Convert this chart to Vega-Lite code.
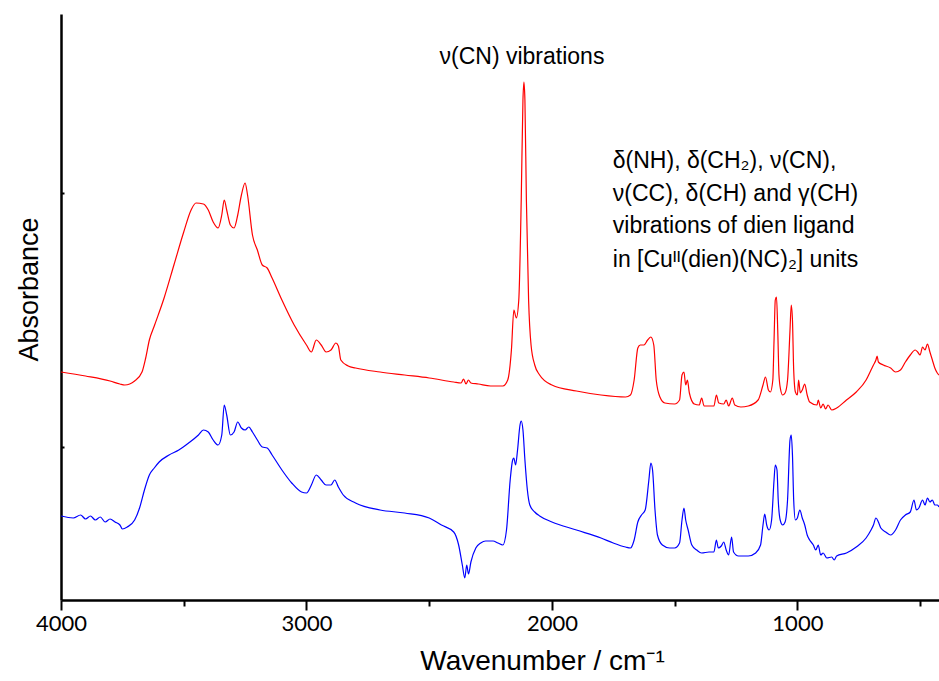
{
  "$schema": "https://vega.github.io/schema/vega-lite/v6.json",
  "width": 878,
  "height": 586,
  "autosize": {"type": "none"},
  "padding": {"left": 61, "top": 14, "right": 0, "bottom": 81},
  "background": "white",
  "config": {"view": {"stroke": null}},
  "datasets": {
    "spec": [
      {"s":"r","w":4000,"a":2.28},{"s":"r","w":3900,"a":2.24},{"s":"r","w":3800,"a":2.19},{"s":"r","w":3760,"a":2.16},{"s":"r","w":3740,"a":2.15},{"s":"r","w":3700,"a":2.19},{"s":"r","w":3670,"a":2.28},{"s":"r","w":3655,"a":2.42},{"s":"r","w":3640,"a":2.60},{"s":"r","w":3620,"a":2.74},{"s":"r","w":3580,"a":3.02},{"s":"r","w":3540,"a":3.35},{"s":"r","w":3500,"a":3.68},{"s":"r","w":3470,"a":3.90},{"s":"r","w":3450,"a":3.97},{"s":"r","w":3420,"a":3.96},{"s":"r","w":3400,"a":3.90},{"s":"r","w":3380,"a":3.78},{"s":"r","w":3360,"a":3.72},{"s":"r","w":3345,"a":3.85},{"s":"r","w":3335,"a":4.00},{"s":"r","w":3325,"a":3.90},{"s":"r","w":3310,"a":3.75},{"s":"r","w":3295,"a":3.72},{"s":"r","w":3280,"a":3.85},{"s":"r","w":3265,"a":4.05},{"s":"r","w":3250,"a":4.17},{"s":"r","w":3240,"a":4.05},{"s":"r","w":3220,"a":3.65},{"s":"r","w":3200,"a":3.50},{"s":"r","w":3180,"a":3.35},{"s":"r","w":3160,"a":3.32},{"s":"r","w":3140,"a":3.22},{"s":"r","w":3100,"a":3.00},{"s":"r","w":3050,"a":2.75},{"s":"r","w":3000,"a":2.55},{"s":"r","w":2980,"a":2.48},{"s":"r","w":2960,"a":2.60},{"s":"r","w":2940,"a":2.55},{"s":"r","w":2920,"a":2.48},{"s":"r","w":2900,"a":2.50},{"s":"r","w":2880,"a":2.57},{"s":"r","w":2870,"a":2.54},{"s":"r","w":2860,"a":2.40},{"s":"r","w":2830,"a":2.34},{"s":"r","w":2800,"a":2.32},{"s":"r","w":2700,"a":2.28},{"s":"r","w":2600,"a":2.25},{"s":"r","w":2500,"a":2.22},{"s":"r","w":2400,"a":2.18},{"s":"r","w":2370,"a":2.17},{"s":"r","w":2360,"a":2.21},{"s":"r","w":2350,"a":2.16},{"s":"r","w":2340,"a":2.20},{"s":"r","w":2330,"a":2.17},{"s":"r","w":2300,"a":2.16},{"s":"r","w":2250,"a":2.14},{"s":"r","w":2200,"a":2.14},{"s":"r","w":2180,"a":2.20},{"s":"r","w":2165,"a":2.50},{"s":"r","w":2155,"a":2.90},{"s":"r","w":2145,"a":2.82},{"s":"r","w":2135,"a":3.00},{"s":"r","w":2125,"a":4.00},{"s":"r","w":2118,"a":5.00},{"s":"r","w":2114,"a":5.18},{"s":"r","w":2110,"a":5.00},{"s":"r","w":2104,"a":4.00},{"s":"r","w":2095,"a":3.00},{"s":"r","w":2085,"a":2.55},{"s":"r","w":2070,"a":2.35},{"s":"r","w":2050,"a":2.25},{"s":"r","w":2000,"a":2.15},{"s":"r","w":1900,"a":2.09},{"s":"r","w":1800,"a":2.05},{"s":"r","w":1700,"a":2.03},{"s":"r","w":1680,"a":2.05},{"s":"r","w":1665,"a":2.20},{"s":"r","w":1650,"a":2.52},{"s":"r","w":1640,"a":2.55},{"s":"r","w":1625,"a":2.55},{"s":"r","w":1610,"a":2.60},{"s":"r","w":1597,"a":2.63},{"s":"r","w":1585,"a":2.55},{"s":"r","w":1575,"a":2.20},{"s":"r","w":1560,"a":2.03},{"s":"r","w":1540,"a":1.97},{"s":"r","w":1500,"a":1.96},{"s":"r","w":1480,"a":2.00},{"s":"r","w":1470,"a":2.25},{"s":"r","w":1462,"a":2.28},{"s":"r","w":1455,"a":2.15},{"s":"r","w":1448,"a":2.20},{"s":"r","w":1440,"a":2.07},{"s":"r","w":1420,"a":1.96},{"s":"r","w":1400,"a":1.95},{"s":"r","w":1390,"a":2.02},{"s":"r","w":1380,"a":1.94},{"s":"r","w":1340,"a":1.94},{"s":"r","w":1330,"a":2.05},{"s":"r","w":1320,"a":1.97},{"s":"r","w":1300,"a":1.96},{"s":"r","w":1290,"a":2.00},{"s":"r","w":1280,"a":1.94},{"s":"r","w":1265,"a":2.02},{"s":"r","w":1255,"a":1.95},{"s":"r","w":1230,"a":1.93},{"s":"r","w":1200,"a":1.94},{"s":"r","w":1160,"a":2.00},{"s":"r","w":1140,"a":2.15},{"s":"r","w":1130,"a":2.23},{"s":"r","w":1118,"a":2.10},{"s":"r","w":1110,"a":2.08},{"s":"r","w":1100,"a":2.20},{"s":"r","w":1095,"a":2.60},{"s":"r","w":1090,"a":3.00},{"s":"r","w":1085,"a":3.03},{"s":"r","w":1080,"a":2.70},{"s":"r","w":1075,"a":2.25},{"s":"r","w":1068,"a":2.10},{"s":"r","w":1060,"a":2.05},{"s":"r","w":1050,"a":2.07},{"s":"r","w":1040,"a":2.20},{"s":"r","w":1030,"a":2.70},{"s":"r","w":1025,"a":2.95},{"s":"r","w":1020,"a":2.80},{"s":"r","w":1015,"a":2.30},{"s":"r","w":1008,"a":2.08},{"s":"r","w":1000,"a":2.05},{"s":"r","w":995,"a":2.20},{"s":"r","w":988,"a":2.07},{"s":"r","w":980,"a":2.10},{"s":"r","w":970,"a":2.16},{"s":"r","w":960,"a":2.05},{"s":"r","w":950,"a":1.98},{"s":"r","w":920,"a":1.95},{"s":"r","w":915,"a":2.00},{"s":"r","w":905,"a":1.92},{"s":"r","w":895,"a":1.96},{"s":"r","w":885,"a":1.91},{"s":"r","w":875,"a":1.95},{"s":"r","w":860,"a":1.90},{"s":"r","w":840,"a":1.92},{"s":"r","w":800,"a":2.00},{"s":"r","w":760,"a":2.08},{"s":"r","w":720,"a":2.20},{"s":"r","w":700,"a":2.30},{"s":"r","w":690,"a":2.35},{"s":"r","w":680,"a":2.40},{"s":"r","w":675,"a":2.44},{"s":"r","w":670,"a":2.38},{"s":"r","w":650,"a":2.35},{"s":"r","w":620,"a":2.32},{"s":"r","w":600,"a":2.28},{"s":"r","w":580,"a":2.30},{"s":"r","w":560,"a":2.38},{"s":"r","w":540,"a":2.45},{"s":"r","w":520,"a":2.50},{"s":"r","w":510,"a":2.48},{"s":"r","w":500,"a":2.45},{"s":"r","w":490,"a":2.53},{"s":"r","w":480,"a":2.50},{"s":"r","w":470,"a":2.56},{"s":"r","w":460,"a":2.48},{"s":"r","w":450,"a":2.40},{"s":"r","w":440,"a":2.32},{"s":"r","w":430,"a":2.27},{"s":"r","w":423,"a":2.25},
      {"s":"b","w":4000,"a":0.84},{"s":"b","w":3950,"a":0.82},{"s":"b","w":3920,"a":0.85},{"s":"b","w":3900,"a":0.81},{"s":"b","w":3880,"a":0.84},{"s":"b","w":3860,"a":0.80},{"s":"b","w":3840,"a":0.83},{"s":"b","w":3820,"a":0.78},{"s":"b","w":3800,"a":0.81},{"s":"b","w":3780,"a":0.78},{"s":"b","w":3760,"a":0.75},{"s":"b","w":3750,"a":0.71},{"s":"b","w":3730,"a":0.73},{"s":"b","w":3700,"a":0.80},{"s":"b","w":3680,"a":0.92},{"s":"b","w":3660,"a":1.10},{"s":"b","w":3640,"a":1.25},{"s":"b","w":3620,"a":1.32},{"s":"b","w":3600,"a":1.38},{"s":"b","w":3560,"a":1.45},{"s":"b","w":3520,"a":1.50},{"s":"b","w":3480,"a":1.57},{"s":"b","w":3440,"a":1.65},{"s":"b","w":3420,"a":1.70},{"s":"b","w":3400,"a":1.68},{"s":"b","w":3380,"a":1.60},{"s":"b","w":3360,"a":1.55},{"s":"b","w":3345,"a":1.65},{"s":"b","w":3335,"a":1.95},{"s":"b","w":3325,"a":1.85},{"s":"b","w":3310,"a":1.65},{"s":"b","w":3295,"a":1.68},{"s":"b","w":3280,"a":1.78},{"s":"b","w":3265,"a":1.72},{"s":"b","w":3250,"a":1.70},{"s":"b","w":3235,"a":1.73},{"s":"b","w":3220,"a":1.68},{"s":"b","w":3200,"a":1.60},{"s":"b","w":3180,"a":1.53},{"s":"b","w":3160,"a":1.52},{"s":"b","w":3140,"a":1.45},{"s":"b","w":3100,"a":1.30},{"s":"b","w":3060,"a":1.17},{"s":"b","w":3020,"a":1.08},{"s":"b","w":3000,"a":1.07},{"s":"b","w":2980,"a":1.15},{"s":"b","w":2960,"a":1.25},{"s":"b","w":2940,"a":1.20},{"s":"b","w":2920,"a":1.15},{"s":"b","w":2900,"a":1.15},{"s":"b","w":2885,"a":1.20},{"s":"b","w":2870,"a":1.13},{"s":"b","w":2850,"a":1.05},{"s":"b","w":2800,"a":0.97},{"s":"b","w":2700,"a":0.90},{"s":"b","w":2600,"a":0.87},{"s":"b","w":2500,"a":0.82},{"s":"b","w":2450,"a":0.75},{"s":"b","w":2400,"a":0.68},{"s":"b","w":2380,"a":0.55},{"s":"b","w":2365,"a":0.35},{"s":"b","w":2355,"a":0.22},{"s":"b","w":2347,"a":0.35},{"s":"b","w":2340,"a":0.26},{"s":"b","w":2330,"a":0.38},{"s":"b","w":2310,"a":0.52},{"s":"b","w":2290,"a":0.57},{"s":"b","w":2270,"a":0.59},{"s":"b","w":2240,"a":0.59},{"s":"b","w":2220,"a":0.57},{"s":"b","w":2200,"a":0.55},{"s":"b","w":2185,"a":0.70},{"s":"b","w":2170,"a":1.20},{"s":"b","w":2160,"a":1.40},{"s":"b","w":2155,"a":1.42},{"s":"b","w":2148,"a":1.35},{"s":"b","w":2140,"a":1.50},{"s":"b","w":2130,"a":1.75},{"s":"b","w":2125,"a":1.79},{"s":"b","w":2118,"a":1.70},{"s":"b","w":2110,"a":1.40},{"s":"b","w":2100,"a":1.10},{"s":"b","w":2090,"a":0.95},{"s":"b","w":2070,"a":0.88},{"s":"b","w":2050,"a":0.84},{"s":"b","w":2000,"a":0.78},{"s":"b","w":1900,"a":0.70},{"s":"b","w":1800,"a":0.62},{"s":"b","w":1750,"a":0.57},{"s":"b","w":1700,"a":0.53},{"s":"b","w":1680,"a":0.52},{"s":"b","w":1665,"a":0.60},{"s":"b","w":1650,"a":0.78},{"s":"b","w":1635,"a":0.85},{"s":"b","w":1620,"a":0.90},{"s":"b","w":1605,"a":1.20},{"s":"b","w":1597,"a":1.37},{"s":"b","w":1590,"a":1.30},{"s":"b","w":1580,"a":0.90},{"s":"b","w":1570,"a":0.65},{"s":"b","w":1550,"a":0.55},{"s":"b","w":1520,"a":0.52},{"s":"b","w":1500,"a":0.52},{"s":"b","w":1480,"a":0.57},{"s":"b","w":1470,"a":0.80},{"s":"b","w":1462,"a":0.92},{"s":"b","w":1455,"a":0.80},{"s":"b","w":1445,"a":0.70},{"s":"b","w":1430,"a":0.55},{"s":"b","w":1410,"a":0.50},{"s":"b","w":1390,"a":0.47},{"s":"b","w":1360,"a":0.48},{"s":"b","w":1340,"a":0.48},{"s":"b","w":1330,"a":0.60},{"s":"b","w":1322,"a":0.52},{"s":"b","w":1310,"a":0.54},{"s":"b","w":1300,"a":0.58},{"s":"b","w":1290,"a":0.50},{"s":"b","w":1280,"a":0.45},{"s":"b","w":1268,"a":0.63},{"s":"b","w":1260,"a":0.48},{"s":"b","w":1240,"a":0.44},{"s":"b","w":1200,"a":0.44},{"s":"b","w":1170,"a":0.47},{"s":"b","w":1150,"a":0.55},{"s":"b","w":1140,"a":0.75},{"s":"b","w":1133,"a":0.86},{"s":"b","w":1125,"a":0.75},{"s":"b","w":1115,"a":0.70},{"s":"b","w":1105,"a":0.80},{"s":"b","w":1095,"a":1.20},{"s":"b","w":1090,"a":1.35},{"s":"b","w":1083,"a":1.30},{"s":"b","w":1078,"a":1.00},{"s":"b","w":1070,"a":0.80},{"s":"b","w":1060,"a":0.75},{"s":"b","w":1050,"a":0.78},{"s":"b","w":1040,"a":1.00},{"s":"b","w":1030,"a":1.60},{"s":"b","w":1025,"a":1.65},{"s":"b","w":1020,"a":1.45},{"s":"b","w":1015,"a":1.00},{"s":"b","w":1008,"a":0.80},{"s":"b","w":1000,"a":0.82},{"s":"b","w":990,"a":0.90},{"s":"b","w":980,"a":0.82},{"s":"b","w":970,"a":0.75},{"s":"b","w":960,"a":0.65},{"s":"b","w":950,"a":0.60},{"s":"b","w":935,"a":0.55},{"s":"b","w":925,"a":0.50},{"s":"b","w":915,"a":0.55},{"s":"b","w":905,"a":0.45},{"s":"b","w":895,"a":0.47},{"s":"b","w":880,"a":0.42},{"s":"b","w":860,"a":0.43},{"s":"b","w":850,"a":0.40},{"s":"b","w":840,"a":0.44},{"s":"b","w":800,"a":0.47},{"s":"b","w":760,"a":0.53},{"s":"b","w":720,"a":0.62},{"s":"b","w":700,"a":0.70},{"s":"b","w":690,"a":0.75},{"s":"b","w":680,"a":0.82},{"s":"b","w":670,"a":0.78},{"s":"b","w":660,"a":0.72},{"s":"b","w":640,"a":0.68},{"s":"b","w":620,"a":0.65},{"s":"b","w":600,"a":0.70},{"s":"b","w":580,"a":0.80},{"s":"b","w":560,"a":0.85},{"s":"b","w":540,"a":0.88},{"s":"b","w":525,"a":1.00},{"s":"b","w":515,"a":0.90},{"s":"b","w":505,"a":0.92},{"s":"b","w":490,"a":1.00},{"s":"b","w":480,"a":0.95},{"s":"b","w":470,"a":1.02},{"s":"b","w":460,"a":0.98},{"s":"b","w":450,"a":1.00},{"s":"b","w":440,"a":0.95},{"s":"b","w":430,"a":0.95},{"s":"b","w":423,"a":0.93}
    ],
    "one": [{}]
  },
  "layer": [
    {
      "data": {"name": "spec"},
      "mark": {"type": "line", "strokeWidth": 1.2, "clip": true, "interpolate": "monotone"},
      "encoding": {
        "x": {
          "field": "w", "type": "quantitative",
          "scale": {"domain": [423, 4000], "reverse": true, "nice": false, "zero": false},
          "axis": {
            "values": [4000, 3500, 3000, 2500, 2000, 1500, 1000, 500],
            "labelExpr": "datum.value % 1000 === 0 ? datum.value : ''",
            "tickSize": {"condition": {"test": "datum.value % 1000 === 0", "value": 10}, "value": 6},
            "tickWidth": 2, "tickColor": "black",
            "domainColor": "black", "domainWidth": 2.5,
            "labelFont": "Lato", "labelFontSize": 22, "labelColor": "black", "labelPadding": 3,
            "labelOverlap": false, "labelFlush": false,
            "grid": false,
            "title": "Wavenumber / cm⁻¹",
            "titleFont": "Liberation Sans", "titleFontSize": 28, "titleFontWeight": "normal", "titleColor": "black",
            "titlePadding": 13, "titleX": 481
          }
        },
        "y": {
          "field": "a", "type": "quantitative",
          "scale": {"domain": [0, 5.86], "nice": false, "zero": false},
          "axis": {
            "values": [1.53, 4.07],
            "labels": false,
            "tickSize": -3, "tickWidth": 2, "tickColor": "black",
            "domainColor": "black", "domainWidth": 2.5,
            "grid": false,
            "title": "Absorbance",
            "titleFont": "Liberation Sans", "titleFontSize": 27, "titleFontWeight": "normal", "titleColor": "black",
            "titlePadding": 17, "titleY": 275
          }
        },
        "color": {"field": "s", "type": "nominal", "scale": {"domain": ["r", "b"], "range": ["#ff0000", "#0000ff"]}, "legend": null},
        "detail": {"field": "s"}
      }
    },
    {
      "data": {"name": "one"},
      "mark": {"type": "text", "font": "Liberation Sans", "fontSize": 23, "align": "center", "baseline": "middle", "color": "black"},
      "encoding": {"x": {"datum": 2122}, "y": {"datum": 5.43}, "text": {"value": "ν(CN) vibrations"}}
    },
    {
      "data": {"name": "one"},
      "mark": {"type": "text", "font": "Liberation Sans", "fontSize": 23, "align": "left", "baseline": "middle", "color": "black"},
      "encoding": {"x": {"datum": 1752}, "y": {"datum": 4.39}, "text": {"value": "δ(NH), δ(CH₂), ν(CN),"}}
    },
    {
      "data": {"name": "one"},
      "mark": {"type": "text", "font": "Liberation Sans", "fontSize": 23, "align": "left", "baseline": "middle", "color": "black"},
      "encoding": {"x": {"datum": 1752}, "y": {"datum": 4.06}, "text": {"value": "ν(CC), δ(CH) and γ(CH)"}}
    },
    {
      "data": {"name": "one"},
      "mark": {"type": "text", "font": "Liberation Sans", "fontSize": 23, "align": "left", "baseline": "middle", "color": "black"},
      "encoding": {"x": {"datum": 1752}, "y": {"datum": 3.74}, "text": {"value": "vibrations of dien ligand"}}
    },
    {
      "data": {"name": "one"},
      "mark": {"type": "text", "font": "Liberation Sans", "fontSize": 23, "align": "left", "baseline": "middle", "color": "black"},
      "encoding": {"x": {"datum": 1752}, "y": {"datum": 3.40}, "text": {"value": "in [Cuᴵᴵ(dien)(NC)₂] units"}}
    }
  ]
}
